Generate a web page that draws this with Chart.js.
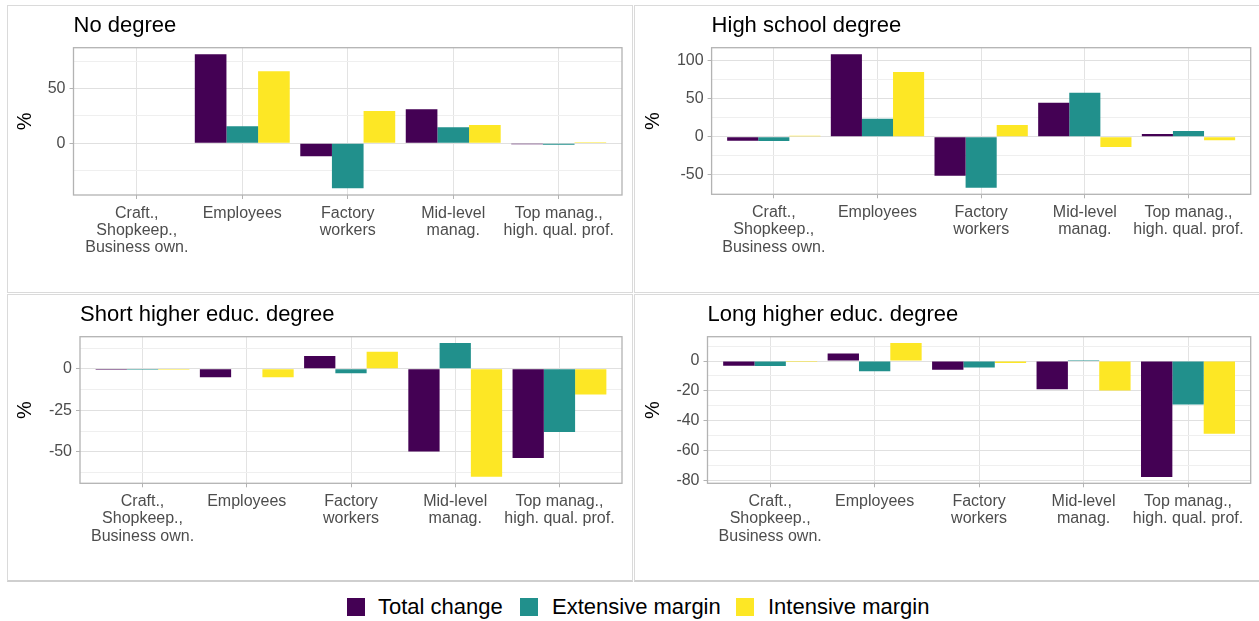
<!DOCTYPE html>
<html>
<head>
<meta charset="utf-8">
<script src="https://cdn.jsdelivr.net/npm/chart.js@4/dist/chart.umd.min.js"></script>
<style>
  body { margin:0; background:#fff; width:1259px; height:621px; overflow:hidden; position:relative; font-family:"Liberation Sans", Arial, sans-serif; }
  .q { position:absolute; box-sizing:border-box; border:1px solid #DADADA; }
  canvas { position:absolute; }
  .sw { position:absolute; width:18px; height:18px; top:598px; }
  .lt { position:absolute; top:595px; font-size:22px; line-height:24px; color:#000; white-space:nowrap; }
</style>
</head>
<body>
<div class="q" style="left:7px;top:5px;width:626px;height:288px"></div>
<div class="q" style="left:634px;top:5px;width:630px;height:288px"></div>
<div class="q" style="left:7px;top:294px;width:626px;height:288px;border-bottom-width:2px;border-bottom-color:#CFCFCF"></div>
<div class="q" style="left:634px;top:294px;width:630px;height:288px;border-bottom-width:2px;border-bottom-color:#CFCFCF"></div>

<canvas id="c1" width="623" height="285" style="left:8px;top:6px"></canvas>
<canvas id="c2" width="624" height="285" style="left:635px;top:6px"></canvas>
<canvas id="c3" width="623" height="285" style="left:8px;top:295px"></canvas>
<canvas id="c4" width="624" height="285" style="left:635px;top:295px"></canvas>

<div class="sw" style="left:347px;background:#440154"></div>
<div class="lt" style="left:378px">Total change</div>
<div class="sw" style="left:520px;background:#21908C"></div>
<div class="lt" style="left:552px">Extensive margin</div>
<div class="sw" style="left:736px;background:#FDE725"></div>
<div class="lt" style="left:768px">Intensive margin</div>

<script>
// ---------- data ----------
const categories = [
  ['Craft.,', 'Shopkeep.,', 'Business own.'],
  'Employees',
  ['Factory', 'workers'],
  ['Mid-level', 'manag.'],
  ['Top manag.,', 'high. qual. prof.']
];
const seriesNames = ['Total change', 'Extensive margin', 'Intensive margin'];
const seriesColors = ['#440154', '#21908C', '#FDE725'];

const panelTitles = ['No degree', 'High school degree', 'Short higher educ. degree', 'Long higher educ. degree'];

const noDegreeTotal     = [null, 81.3, -11.9, 31.1, -0.6];
const noDegreeExtensive = [null, 15.5, -41.4, 14.6, -1.5];
const noDegreeIntensive = [null, 65.8, 29.5, 16.5, 0.5];

const highSchoolTotal     = [-5.2, 107.8, -51.0, 44.5, 3.5];
const highSchoolExtensive = [-5.6, 23.4, -66.6, 57.5, 7.4];
const highSchoolIntensive = [0.8, 84.4, 15.2, -13.4, -4.8];

const shortHigherTotal     = [-0.3, -5.0, 7.8, -49.8, -53.8];
const shortHigherExtensive = [-0.2, null, -2.6, 15.6, -38.0];
const shortHigherIntensive = [-0.2, -5.0, 10.4, -65.0, -15.4];

const longHigherTotal     = [-3.1, 5.1, -5.8, -18.9, -77.8];
const longHigherExtensive = [-3.3, -6.9, -4.4, 0.4, -29.1];
const longHigherIntensive = [-0.3, 12.0, -1.3, -19.8, -48.7];

// y-axis ticks (major labelled, minor unlabelled) and limits
const noDegreeMajor = [0, 50],               noDegreeMinor = [-25, 25, 75],            noDegreeLimits = [-47.5, 87.4];
const highSchoolMajor = [-50, 0, 50, 100],   highSchoolMinor = [-75, -25, 25, 75],     highSchoolLimits = [-75.3, 116.3];
const shortHigherMajor = [-50, -25, 0],      shortHigherMinor = [-62.5, -37.5, -12.5, 12.5], shortHigherLimits = [-69, 19.4];
const longHigherMajor = [-80, -60, -40, -20, 0], longHigherMinor = [-70, -50, -30, -10, 10], longHigherLimits = [-82, 16.3];

// ---------- setup ----------
Chart.defaults.font.family = '"Liberation Sans", Arial, sans-serif';

// ggplot-style discrete expansion (0.6 units on each side)
const CatScale = Chart.CategoryScale || Chart.registry.getScale('category');
const origConfigure = CatScale.prototype.configure;
CatScale.prototype.configure = function () {
  origConfigure.call(this);
  const e = 0.6;
  this._startValue = this.min - e;
  this._valueRange = (this.max - this.min) + 2 * e;
};

const panelDecor = {
  id: 'panelDecor',
  afterDatasetsDraw(chart, args, opts) {
    const { ctx, chartArea: a } = chart;
    ctx.save();
    ctx.strokeStyle = '#B3B3B3';
    ctx.lineWidth = 1.3;
    ctx.strokeRect(a.left, a.top, a.right - a.left, a.bottom - a.top);
    ctx.fillStyle = '#000';
    ctx.font = '22px "Liberation Sans", Arial, sans-serif';
    ctx.textAlign = 'left';
    ctx.textBaseline = 'alphabetic';
    ctx.fillText(opts.text, a.left, a.top - 16);
    ctx.restore();
  }
};

function makePanel(id, title, total, ext, intens, major, minor, limits, geo) {
  const all = major.concat(minor).sort((a, b) => a - b);
  const isMajor = v => major.includes(v);
  new Chart(document.getElementById(id), {
    type: 'bar',
    data: {
      labels: categories,
      datasets: [total, ext, intens].map((d, i) => ({
        label: seriesNames[i],
        data: d,
        backgroundColor: seriesColors[i],
        borderWidth: 0,
        minBarLength: 1,
        categoryPercentage: 0.9,
        barPercentage: 1.0
      }))
    },
    options: {
      responsive: false,
      animation: false,
      layout: { padding: { top: geo.top, right: geo.right, bottom: 0, left: 0 } },
      plugins: {
        legend: { display: false },
        tooltip: { enabled: false },
        panelDecor: { text: title }
      },
      scales: {
        x: {
          type: 'category',
          offset: true,
          border: { display: false },
          grid: { offset: false, color: '#E3E3E3', lineWidth: 1, tickColor: '#B3B3B3', tickLength: 4, drawTicks: true },
          ticks: { color: '#4D4D4D', font: { size: 16, lineHeight: 1.07 }, padding: 6, maxRotation: 0, minRotation: 0, autoSkip: false },
          afterFit: s => { s.height = geo.xh; }
        },
        y: {
          type: 'linear',
          min: limits[0],
          max: limits[1],
          border: { display: false },
          afterBuildTicks: s => { s.ticks = all.map(v => ({ value: v })); },
          grid: {
            color: c => isMajor(c.tick.value) ? '#E0E0E0' : '#EFEFEF',
            lineWidth: 1,
            tickColor: c => isMajor(c.tick.value) ? '#B3B3B3' : 'rgba(0,0,0,0)',
            tickLength: 4
          },
          ticks: {
            color: '#4D4D4D', font: { size: 16 }, padding: 4, autoSkip: false,
            callback: v => isMajor(v) ? String(v) : ''
          },
          title: { display: true, text: '%', color: '#000', font: { size: 20 }, padding: { top: geo.tp, bottom: 0 } },
          afterFit: s => { s.width = geo.yw; }
        }
      }
    },
    plugins: [panelDecor]
  });
}

makePanel('c1', panelTitles[0], noDegreeTotal, noDegreeExtensive, noDegreeIntensive,
  noDegreeMajor, noDegreeMinor, noDegreeLimits, { top: 41.7, right: 9, xh: 96, yw: 65.5, tp: 5 });
makePanel('c2', panelTitles[1], highSchoolTotal, highSchoolExtensive, highSchoolIntensive,
  highSchoolMajor, highSchoolMinor, highSchoolLimits, { top: 41.7, right: 8.3, xh: 96.7, yw: 76.6, tp: 6 });
makePanel('c3', panelTitles[2], shortHigherTotal, shortHigherExtensive, shortHigherIntensive,
  shortHigherMajor, shortHigherMinor, shortHigherLimits, { top: 41.7, right: 9, xh: 96.7, yw: 72, tp: 5 });
makePanel('c4', panelTitles[3], longHigherTotal, longHigherExtensive, longHigherIntensive,
  longHigherMajor, longHigherMinor, longHigherLimits, { top: 41.7, right: 8.3, xh: 96.7, yw: 72.5, tp: 6 });
</script>
</body>
</html>
